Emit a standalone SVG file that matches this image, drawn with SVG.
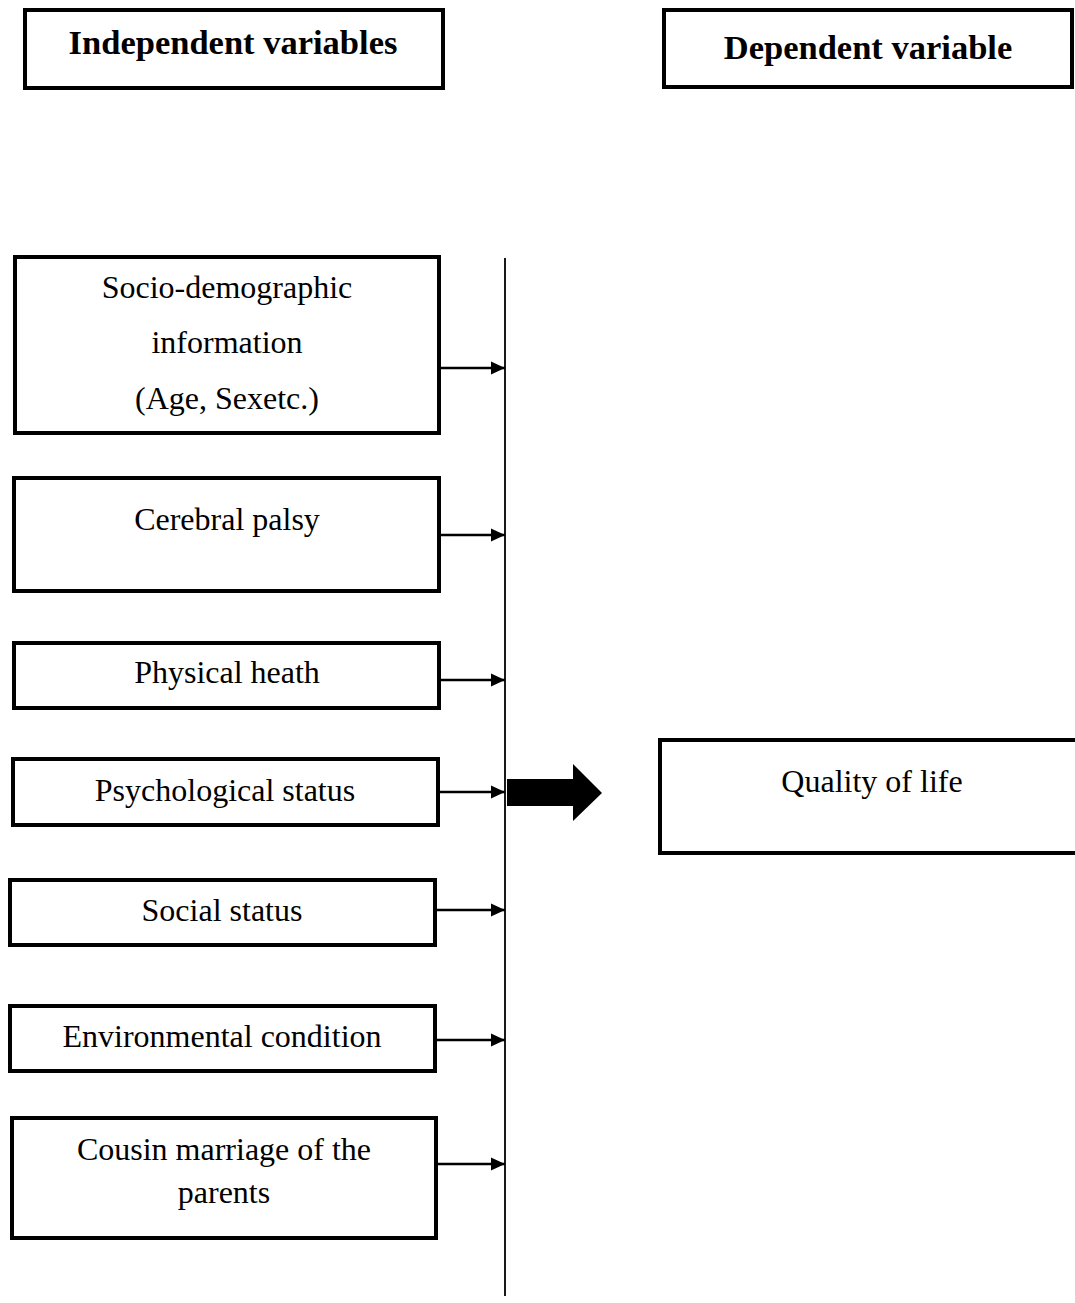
<svg xmlns="http://www.w3.org/2000/svg" width="1075" height="1303" viewBox="0 0 1075 1303">
<style>
.box{fill:#fff;stroke:#000;stroke-width:4}
.t{font-family:"Liberation Serif","Times New Roman",serif;font-size:32px;fill:#000;text-anchor:middle}
.h{font-family:"Liberation Serif","Times New Roman",serif;font-size:34.5px;font-weight:bold;fill:#000;text-anchor:middle}
.c{stroke:#000;stroke-width:2.5;fill:none}
</style>
<defs>
<marker id="ah" markerWidth="14" markerHeight="14" refX="14" refY="7" orient="auto" markerUnits="userSpaceOnUse">
<path d="M0,0.5 L14,7 L0,13.5 Z" fill="#000"/>
</marker>
</defs>
<rect width="1075" height="1303" fill="#fff"/>
<g id="hdr-indep"><rect class="box" x="25" y="10" width="418" height="78"/><text class="h" x="233" y="54">Independent variables</text></g>
<g id="hdr-dep"><rect class="box" x="664" y="10" width="408" height="77"/><text class="h" x="868" y="59">Dependent variable</text></g>
<g id="n1"><rect class="box" x="15" y="257" width="424" height="176"/><text class="t" x="227" y="298">Socio-demographic</text><text class="t" x="227" y="353">information</text><text class="t" x="227" y="409">(Age, Sexetc.)</text></g>
<g id="n2"><rect class="box" x="14" y="478" width="425" height="113"/><text class="t" x="227" y="530">Cerebral palsy</text></g>
<g id="n3"><rect class="box" x="14" y="643" width="425" height="65"/><text class="t" x="227" y="683">Physical heath</text></g>
<g id="n4"><rect class="box" x="13" y="759" width="425" height="66"/><text class="t" x="225" y="801">Psychological status</text></g>
<g id="n5"><rect class="box" x="10" y="880" width="425" height="65"/><text class="t" x="222" y="921">Social status</text></g>
<g id="n6"><rect class="box" x="10" y="1006" width="425" height="65"/><text class="t" x="222" y="1047">Environmental condition</text></g>
<g id="n7"><rect class="box" x="12" y="1118" width="424" height="120"/><text class="t" x="224" y="1160">Cousin marriage of the</text><text class="t" x="224" y="1203">parents</text></g>
<g id="n8"><rect class="box" x="660" y="740" width="420" height="113"/><text class="t" x="872" y="792">Quality of life</text></g>
<g id="connectors">
<line x1="505" y1="258" x2="505" y2="1296" stroke="#000" stroke-width="1.8"/>
<line class="c" x1="441" y1="368" x2="505" y2="368" marker-end="url(#ah)"/>
<line class="c" x1="441" y1="535" x2="505" y2="535" marker-end="url(#ah)"/>
<line class="c" x1="441" y1="680" x2="505" y2="680" marker-end="url(#ah)"/>
<line class="c" x1="440" y1="792" x2="505" y2="792" marker-end="url(#ah)"/>
<line class="c" x1="437" y1="910" x2="505" y2="910" marker-end="url(#ah)"/>
<line class="c" x1="437" y1="1040" x2="505" y2="1040" marker-end="url(#ah)"/>
<line class="c" x1="438" y1="1164" x2="505" y2="1164" marker-end="url(#ah)"/>
<path d="M507,779 L573,779 L573,764 L602,793 L573,821 L573,806 L507,806 Z" fill="#000"/>
</g>
</svg>
